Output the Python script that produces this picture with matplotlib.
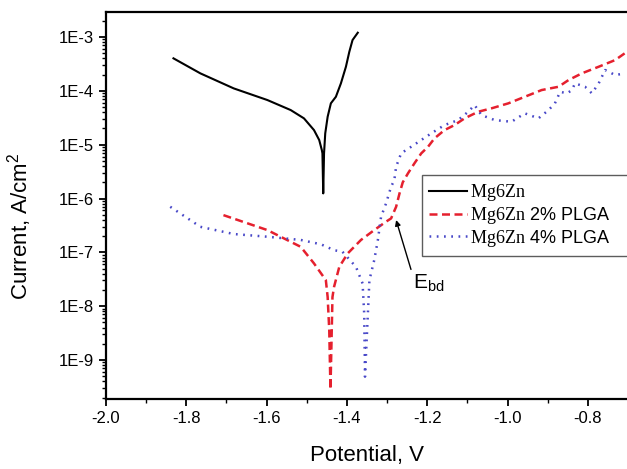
import numpy as np
import matplotlib
matplotlib.use('Agg')
import matplotlib.pyplot as plt
from matplotlib.ticker import LogLocator, FuncFormatter, MultipleLocator, NullFormatter

plt.rcParams['font.family'] = 'Liberation Sans'
plt.rcParams['mathtext.fontset'] = 'custom'
plt.rcParams['mathtext.rm'] = 'Liberation Serif'
plt.rcParams['mathtext.sf'] = 'Liberation Sans'

# Mg6Zn (black) - potential [V], log10(current density [A/cm2])
e_mg = [-1.832, -1.765, -1.682, -1.598, -1.540, -1.507, -1.482, -1.469, -1.4625, -1.461,
        -1.459, -1.457, -1.454, -1.448, -1.440, -1.4275, -1.415, -1.4025, -1.394, -1.386, -1.373]
logi_mg = [-3.396, -3.675, -3.954, -4.171, -4.357, -4.511, -4.729, -4.914, -5.10, -5.16,
           -5.905, -5.162, -4.79, -4.481, -4.232, -4.11, -3.861, -3.552, -3.273, -3.056, -2.92]

# Mg6Zn 2% PLGA (red dashed)
e_2 = [-1.7075, -1.598, -1.515, -1.482, -1.4525, -1.448, -1.444, -1.441, -1.436, -1.432,
       -1.419, -1.398, -1.365, -1.332, -1.3025, -1.29, -1.2775, -1.269, -1.261, -1.248,
       -1.232, -1.215, -1.198, -1.182, -1.157, -1.132, -1.107, -1.073, -1.040, -0.998,
       -0.957, -0.915, -0.873, -0.848, -0.815, -0.773, -0.732, -0.7025]
logi_2 = [-6.309, -6.587, -6.898, -7.206, -7.517, -7.83, -8.45, -9.55, -7.83, -7.64,
          -7.27, -7.02, -6.77, -6.587, -6.43, -6.37, -6.154, -5.905, -5.70, -5.533,
          -5.348, -5.162, -5.039, -4.883, -4.729, -4.636, -4.511, -4.388, -4.325, -4.232,
          -4.11, -3.985, -3.924, -3.799, -3.675, -3.552, -3.428, -3.273]

# Mg6Zn 4% PLGA (blue dotted)
e_4 = [-1.84, -1.765, -1.682, -1.598, -1.515, -1.465, -1.432, -1.411, -1.3775, -1.361,
       -1.357, -1.355, -1.344, -1.332, -1.323, -1.315, -1.3025, -1.29, -1.282, -1.2775,
       -1.265, -1.240, -1.215, -1.190, -1.157, -1.123, -1.098, -1.082, -1.065, -1.032,
       -0.990, -0.957, -0.923, -0.898, -0.882, -0.869, -0.8525, -0.840, -0.832, -0.807,
       -0.790, -0.773, -0.757, -0.732, -0.7068]
logi_4 = [-6.154, -6.526, -6.66, -6.71, -6.77, -6.85, -6.96, -6.99, -7.27, -7.578,
          -8.136, -9.31, -7.517, -7.145, -6.773, -6.34, -6.09, -5.78, -5.66, -5.41,
          -5.16, -5.039, -4.914, -4.79, -4.636, -4.543, -4.388, -4.264, -4.45, -4.543,
          -4.574, -4.418, -4.511, -4.357, -4.232, -4.017, -4.046, -3.99, -3.861, -3.924,
          -4.046, -3.861, -3.613, -3.706, -3.675]

labels = [r'$\mathrm{Mg6Zn}$', r'$\mathrm{Mg6Zn}$ 2% PLGA', r'$\mathrm{Mg6Zn}$ 4% PLGA']

fig = plt.figure(figsize=(6.27, 4.69), dpi=100)
ax = fig.add_axes([106/627, 1-399/469, 1-106/627, (399-12)/469])

ax.plot(e_mg, 10**np.array(logi_mg), color='black', lw=1.5, label=labels[0])
ax.plot(e_2, 10**np.array(logi_2), color='#e5202e', lw=1.8, dashes=(3.2, 1.8), label=labels[1])
ax.plot(e_4, 10**np.array(logi_4), color='#4848c8', lw=1.8, dashes=(0.7, 2.2), label=labels[2])

ax.set_yscale('log')
ax.set_xlim(-2.0, -0.7025)
ax.set_ylim(10**-9.725, 10**-2.535)

ax.xaxis.set_major_locator(MultipleLocator(0.2))
ax.xaxis.set_minor_locator(MultipleLocator(0.1))
ax.xaxis.set_major_formatter(FuncFormatter(lambda v, p: '%.1f' % v))
ax.yaxis.set_major_locator(LogLocator(base=10, numticks=20))
ax.yaxis.set_minor_locator(LogLocator(base=10, subs=np.arange(2, 10), numticks=20))
ax.yaxis.set_major_formatter(FuncFormatter(lambda v, p: '1E%d' % round(np.log10(v))))
ax.yaxis.set_minor_formatter(NullFormatter())
ax.xaxis.get_offset_text().set_visible(False)
ax.yaxis.get_offset_text().set_visible(False)

ax.tick_params(which='major', length=5, width=1.3, labelsize=12, direction='out')
ax.tick_params(which='minor', length=3, width=1.0, direction='out')
for s in ['left', 'bottom', 'top']:
    ax.spines[s].set_linewidth(1.6)
ax.spines['right'].set_visible(False)

ax.set_xlabel('Potential, V', fontsize=16, labelpad=14)
ax.set_ylabel('Current, A/cm$^\\mathsf{2}$', fontsize=16)
ax.yaxis.set_label_coords(-0.138, 0.447)

ax.annotate(r'E$_{\mathsf{bd}}$', xy=(-1.2775, 10**-6.40), xytext=(-1.236, 10**-7.57),
            fontsize=15, va='center', ha='left',
            arrowprops=dict(arrowstyle='-|>', color='black', lw=1.0, mutation_scale=8,
                            shrinkA=0, shrinkB=0, relpos=(0.0, 0.85)))

leg = ax.legend(loc='upper left', bbox_to_anchor=(0.606, 0.377, 0.45, 0.202), mode='expand',
                borderaxespad=0, fontsize=13, handlelength=2.1, handletextpad=0.2,
                labelspacing=0.1, fancybox=False, frameon=True)
leg.get_frame().set_edgecolor('#333333')
leg.get_frame().set_linewidth(1.0)

fig.savefig('out.png', dpi=100)
